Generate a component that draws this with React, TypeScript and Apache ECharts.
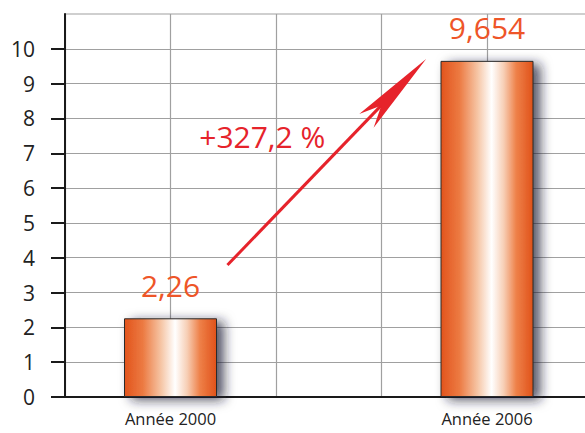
import React, { useEffect, useRef } from "react";
import * as echarts from "echarts";

const categories = ["Année 2000", "Année 2006"];
const categorySlots = [1, 4];
const slotCount = 6;
const values = [2.26, 9.654];
const yTicks = [0, 1, 2, 3, 4, 5, 6, 7, 8, 9, 10];
const growthLabel = "+327,2 %";
const arrowFrom = [1.54, 3.79];
const arrowTo = [3.14, 8.82];
const growthLabelPos = [1.87, 7.47];

const FONT = "Open Sans";

export default function App() {
  const ref = useRef<HTMLDivElement>(null);
  useEffect(() => {
    if (!ref.current) return;
    const chart = echarts.init(ref.current, null, { renderer: "svg" });
    const slots: string[] = Array.from({ length: slotCount }, () => "");
    const barData: any[] = Array.from({ length: slotCount }, () => "-");
    categories.forEach((c, i) => {
      slots[categorySlots[i]] = c;
      barData[categorySlots[i]] = values[i];
    });
    const gradient = new echarts.graphic.LinearGradient(0, 0, 1, 0, [
      { offset: 0, color: "#e2541c" },
      { offset: 0.2, color: "#ec7a42" },
      { offset: 0.4, color: "#f6c6a6" },
      { offset: 0.55, color: "#ffffff" },
      { offset: 0.68, color: "#f7cfb6" },
      { offset: 0.82, color: "#ee8048" },
      { offset: 1, color: "#e0521a" },
    ]);
    chart.setOption({
      animation: false,
      backgroundColor: "#ffffff",
      grid: {
        left: 65,
        top: 14,
        right: -7.5,
        bottom: 36,
        containLabel: false,
        outerBoundsMode: "none",
        show: true,
        borderColor: "#a0a0a0",
        borderWidth: 1.2,
        backgroundColor: "transparent",
      },
      xAxis: [
        {
          type: "category",
          data: slots,
          boundaryGap: false,
          axisLine: { show: true, lineStyle: { color: "#1a1a1a", width: 2 } },
          axisTick: { show: false },
          axisLabel: { interval: 0, fontSize: 16.5, color: "#222", margin: 13, fontFamily: FONT },
          splitLine: { show: true, lineStyle: { color: "#a0a0a0", width: 1.2 } },
        },
        { type: "value", min: 0, max: 5, show: false },
      ],
      yAxis: {
        type: "value",
        min: 0,
        max: 11,
        interval: 1,
        axisLine: { show: true, lineStyle: { color: "#1a1a1a", width: 2 } },
        axisTick: { show: true, length: 14, lineStyle: { color: "#1a1a1a", width: 2 }, customValues: yTicks },
        axisLabel: { fontSize: 21, color: "#222", margin: 30, fontFamily: FONT, customValues: yTicks },
        splitLine: { show: true, lineStyle: { color: "#a0a0a0", width: 1.2 } },
      },
      series: [
        {
          type: "bar",
          xAxisIndex: 0,
          data: barData,
          barWidth: 93,
          itemStyle: {
            color: gradient,
            borderColor: "#2a2a2a",
            borderWidth: 1,
            shadowColor: "rgba(30,30,50,0.75)",
            shadowBlur: 12,
            shadowOffsetX: 7,
            shadowOffsetY: 3,
          },
          label: {
            show: true,
            position: "top",
            distance: 18,
            fontSize: 30,
            color: "#ee5528",
            fontFamily: FONT,
            formatter: (p: any) => String(p.value).replace(".", ","),
          },
          emphasis: { disabled: true },
        },
        {
          type: "line",
          xAxisIndex: 1,
          yAxisIndex: 0,
          data: [],
          markLine: {
            silent: true,
            symbol: ["none", "path://M0,0L-10,80L0,60L10,80Z"],
            symbolSize: [20, 86],
            lineStyle: { color: "#e6232b", width: 3, type: "solid" },
            itemStyle: { color: "#e6232b" },
            label: { show: false },
            emphasis: { disabled: true },
            data: [[{ coord: arrowFrom }, { coord: arrowTo }]],
          },
          markPoint: {
            silent: true,
            symbol: "circle",
            symbolSize: 1,
            itemStyle: { color: "rgba(0,0,0,0)" },
            label: {
              show: true,
              position: "inside",
              formatter: growthLabel,
              fontSize: 30,
              color: "#e6232b",
              fontFamily: FONT,
            },
            emphasis: { disabled: true },
            data: [{ coord: growthLabelPos }],
          },
        },
      ],
    });
    return () => chart.dispose();
  }, []);
  return (
    <div
      ref={ref}
      style={{ position: "fixed", left: 0, top: 0, width: 585, height: 433 }}
    />
  );
}
